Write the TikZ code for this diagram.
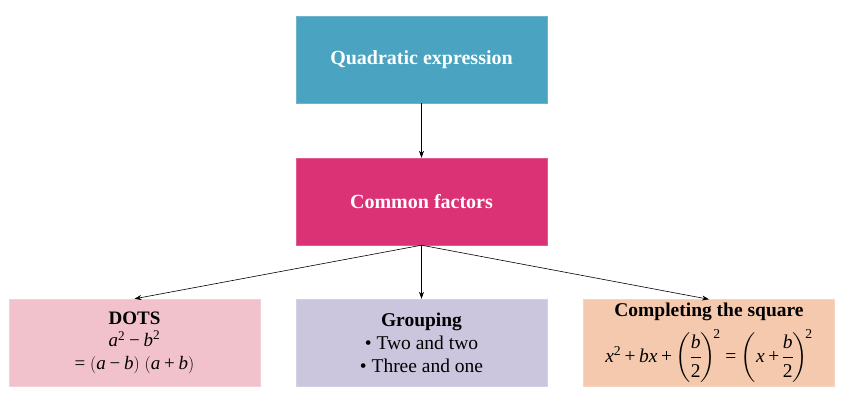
\documentclass[tikz,border=0pt]{standalone}
\usepackage{amsmath}
\usepackage{fontspec}
\setmainfont{Liberation Serif}
\usetikzlibrary{arrows.meta}
\definecolor{cTop}{HTML}{4AA3C0}
\definecolor{cMid}{HTML}{DA3275}
\definecolor{cL}{HTML}{F2C2CC}
\definecolor{cC}{HTML}{CBC6DE}
\definecolor{cR}{HTML}{F5C9AD}
\newcommand{\mi}[1]{\text{\itshape #1}}
\newcommand{\mn}[1]{\text{#1}}
\newcommand{\pl}{\mathbin{\text{+}}}
\newcommand{\mm}{\mathbin{\text{−}}}
\newcommand{\eq}{\mathrel{\text{=}}}
\begin{document}
\begin{tikzpicture}[x=1pt,y=-1pt,
  box/.style={minimum width=251pt,minimum height=87pt,inner sep=0pt,align=center,draw=#1!80!white,fill=#1,line width=0.4pt},
  conn/.style={-{Stealth[length=7pt,width=5pt]},line width=0.6pt}]
\useasboundingbox (0,0) rectangle (844,408);
\node[box=cTop,text=white,font=\fontsize{20}{23}\selectfont\bfseries] (q) at (421.5,59.5) {Quadratic expression};
\node[box=cMid,text=white,font=\fontsize{20}{23}\selectfont\bfseries] (c) at (421.5,201.5) {Common factors};
\node[box=cL,font=\fontsize{19}{22.5}\selectfont] (d) at (134.5,342.5) {\textbf{DOTS}\\
  $\mi{a}^{\mn{2}}\mm\mi{b}^{\mn{2}}$\\
  $\eq(\mi{a}\mm\mi{b})\;(\mi{a}\pl\mi{b})$};
\node[box=cC,font=\fontsize{19.5}{23}\selectfont] (g) at (421.5,342.5) {\textbf{Grouping}\\
  \textbullet\ Two and two\\ \textbullet\ Three and one};
\node[box=cR,font=\fontsize{19.5}{21}\selectfont] (s) at (709,343) {\textbf{Completing the square}\\[7pt]
  $\medmuskip=3mu\thickmuskip=4mu\nulldelimiterspace=0pt\mi{x}^{\mn{2}}\pl\mi{bx}\pl\left(\dfrac{\mi{b}}{\mn{2}}\right)^{\!\mn{2}}\eq\left(\mi{x}\pl\dfrac{\mi{b}}{\mn{2}}\right)^{\!\mn{2}}$};
\draw[conn] (q.south) -- (c.north);
\draw[conn] (c.south) -- (g.north);
\draw[conn] (c.south) -- (d.north);
\draw[conn] (c.south) -- (s.north);
\end{tikzpicture}
\end{document}
